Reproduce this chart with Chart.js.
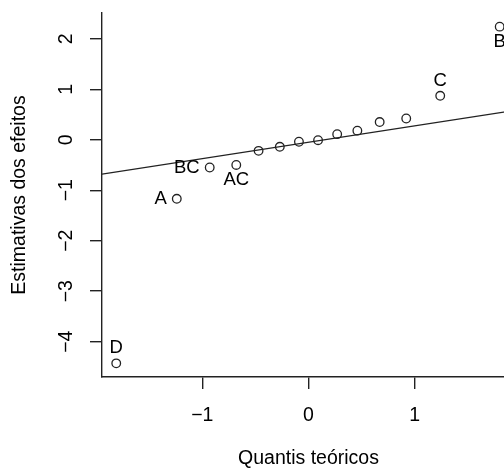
<!DOCTYPE html>
<html>
<head>
<meta charset="utf-8">
<script src="https://cdn.jsdelivr.net/npm/chart.js@4/dist/chart.umd.min.js"></script>
<style>
  html, body { margin: 0; padding: 0; background: #fff; overflow: hidden; }
  #wrap { width: 540px; height: 468px; }
</style>
</head>
<body>
<div id="wrap"><canvas id="myChart" width="540" height="468"></canvas></div>
<script>
// quantis teoricos (eixo x) e estimativas dos efeitos (eixo y)
var quantis = [-1.81, -1.24, -0.93, -0.68, -0.47, -0.27, -0.09, 0.09, 0.27, 0.46, 0.67, 0.92, 1.24, 1.80];
var efeitos = [-4.43, -1.17, -0.55, -0.50, -0.22, -0.14, -0.04, -0.01, 0.11, 0.18, 0.35, 0.42, 0.87, 2.24];
var rotulos = ["D", "A", "BC", "AC", "", "", "", "", "", "", "", "", "C", "B"];

// reta de referencia (qqline)
var retaX = [-1.944, 1.944];
var retaY = [-0.68, 0.58];

var xTicks = [-1, 0, 1];
var yTicks = [-4, -3, -2, -1, 0, 1, 2];

var FONTE = "'Liberation Sans', Arial, sans-serif";

function menos(v) {
    return String(v).replace("-", "\u2212");
}

var pontos = [];
for (var i = 0; i < quantis.length; i++) {
    pontos.push({ x: quantis[i], y: efeitos[i] });
}
var reta = [];
for (var i = 0; i < retaX.length; i++) {
    reta.push({ x: retaX[i], y: retaY[i] });
}

// onde fica cada rotulo em relacao ao ponto
var posicao = { "D": "top", "A": "left", "BC": "left", "AC": "bottom", "C": "top", "B": "bottom" };

var textos = {
    id: "textos",
    afterDraw: function (chart) {
        var ctx = chart.ctx;
        var y = chart.scales.y;
        ctx.save();
        ctx.fillStyle = "#000";

        // rotulos do eixo y, girados
        ctx.font = "19.5px " + FONTE;
        ctx.textAlign = "center";
        ctx.textBaseline = "middle";
        for (var i = 0; i < yTicks.length; i++) {
            var py = y.getPixelForValue(yTicks[i]);
            ctx.save();
            ctx.translate(67, py);
            ctx.rotate(-Math.PI / 2);
            ctx.fillText(menos(yTicks[i]), 0, 0);
            ctx.restore();
        }

        // rotulos dos pontos
        var meta = chart.getDatasetMeta(1);
        ctx.font = "18.5px " + FONTE;
        for (var i = 0; i < rotulos.length; i++) {
            var r = rotulos[i];
            if (r == "") continue;
            var el = meta.data[i];
            var p = posicao[r];
            if (p == "top") {
                ctx.textAlign = "center";
                ctx.fillText(r, el.x, el.y - 15);
            } else if (p == "bottom") {
                ctx.textAlign = "center";
                ctx.fillText(r, el.x, el.y + 15);
            } else {
                ctx.textAlign = "right";
                ctx.fillText(r, el.x - 10, el.y);
            }
        }
        ctx.restore();
    }
};

var ctx = document.getElementById("myChart");

var chart = new Chart(ctx, {
    type: "scatter",
    data: {
        datasets: [
            {
                type: "line",
                label: "reta",
                data: reta,
                borderColor: "#222",
                borderWidth: 1.2,
                pointRadius: 0,
                fill: false,
                tension: 0
            },
            {
                label: "efeitos",
                data: pontos,
                pointStyle: "circle",
                pointRadius: 4.3,
                pointBackgroundColor: "rgba(0,0,0,0)",
                pointBorderColor: "#222",
                pointBorderWidth: 1.3
            }
        ]
    },
    options: {
        responsive: false,
        animation: false,
        events: [],
        layout: { padding: { left: 0, right: 25, top: 13, bottom: 0 } },
        plugins: {
            legend: { display: false },
            tooltip: { enabled: false }
        },
        scales: {
            x: {
                type: "linear",
                min: -1.944,
                max: 1.944,
                afterBuildTicks: function (scale) {
                    scale.ticks = xTicks.map(function (v) { return { value: v }; });
                },
                afterFit: function (scale) { scale.height = 91; },
                grid: { display: true, drawOnChartArea: false, drawTicks: true, tickLength: 12, color: "#222", lineWidth: 1.4 },
                border: { display: true, color: "#222", width: 1.4 },
                ticks: {
                    padding: 15,
                    color: "#000",
                    font: { family: FONTE, size: 19.5 },
                    maxRotation: 0,
                    callback: function (v) { return menos(v); }
                },
                title: {
                    display: true,
                    text: "Quantis teóricos",
                    color: "#000",
                    font: { family: FONTE, size: 19.5, lineHeight: 1 },
                    padding: { top: 0, bottom: 0 }
                }
            },
            y: {
                type: "linear",
                min: -4.70,
                max: 2.51,
                afterBuildTicks: function (scale) {
                    scale.ticks = yTicks.map(function (v) { return { value: v }; });
                },
                afterFit: function (scale) { scale.width = 102; },
                grid: { display: true, drawOnChartArea: false, drawTicks: true, tickLength: 12, color: "#222", lineWidth: 1.4 },
                border: { display: true, color: "#222", width: 1.4 },
                ticks: { display: false },
                title: {
                    display: true,
                    text: "Estimativas dos efeitos",
                    color: "#000",
                    font: { family: FONTE, size: 19.5, lineHeight: 1 },
                    padding: { top: 10, bottom: 10 }
                }
            }
        }
    },
    plugins: [textos]
});
</script>
</body>
</html>
